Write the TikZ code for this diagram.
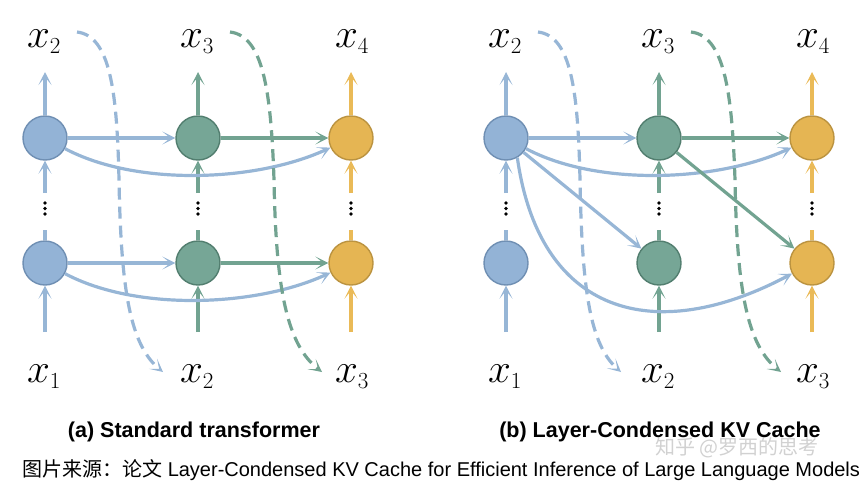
\RequirePackage{fix-cm}
\documentclass[tikz,border=0pt]{standalone}
\usepackage{fontspec}
\setmainfont{Liberation Sans}
\newfontfamily\cjkfont{Noto Sans CJK SC}
\usetikzlibrary{arrows.meta}
\definecolor{blueF}{HTML}{93B3D6}
\definecolor{blueD}{HTML}{6F8FB3}
\definecolor{blueA}{HTML}{97B6D6}
\definecolor{greenF}{HTML}{76A696}
\definecolor{greenD}{HTML}{527E6F}
\definecolor{greenA}{HTML}{72A391}
\definecolor{yellowF}{HTML}{E5B553}
\definecolor{yellowD}{HTML}{BB9340}
\definecolor{yellowA}{HTML}{EABA57}
\newcommand{\xsub}[1]{$x_{\mbox{\fontsize{23}{23}\selectfont$#1$}}$}
\begin{document}
\begin{tikzpicture}[x=1pt,y=1pt,
  nd/.style={circle, minimum size=44pt, inner sep=0pt, line width=1.4pt},
  bnode/.style={nd, fill=blueF, draw=blueD},
  gnode/.style={nd, fill=greenF, draw=greenD},
  ynode/.style={nd, fill=yellowF, draw=yellowD},
  ar/.style={line width=3.2pt, -{Stealth[length=13pt,width=13pt,inset=8pt]}},
  ln/.style={line width=3.2pt},
  dsh/.style={line width=3.2pt, dash pattern=on 12pt off 7pt, -{Stealth[length=13pt,width=13pt,inset=8pt]}},
  lab/.style={font=\fontsize{41}{44}\selectfont, inner sep=0pt},
  captxt/.style={font=\bfseries\fontsize{21.5}{24}\selectfont, inner sep=0pt},
  dotc/.style={black}]
\useasboundingbox (0,0) rectangle (862,-482);
% ---------------- left panel ----------------
\node[bnode] (a11) at (45,-138) {};
\node[gnode] (a12) at (198,-138) {};
\node[ynode] (a13) at (351,-138) {};
\node[bnode] (a21) at (45,-263) {};
\node[gnode] (a22) at (198,-263) {};
\node[ynode] (a23) at (351,-263) {};
\node[lab] (at1) at (44,-42) {\xsub{2}};
\node[lab] (at2) at (197,-42) {\xsub{3}};
\node[lab] (at3) at (352,-42) {\xsub{4}};
\node[lab] (ab1) at (44,-377) {\xsub{1}};
\node[lab] (ab2) at (197,-377) {\xsub{2}};
\node[lab] (ab3) at (352,-377) {\xsub{3}};
\foreach \c/\xx/\col in {1/45/blueA,2/198/greenA,3/351/yellowA}{
  \coordinate (ai\c) at (\xx,-332);
  \coordinate (am\c) at (\xx,-230);
  \coordinate (an\c) at (\xx,-193);
  \coordinate (ao\c) at (\xx,-72);
  \draw[ar,\col] (ai\c) -- (a2\c);
  \draw[ln,\col] (a2\c) -- (am\c);
  \draw[ar,\col] (an\c) -- (a1\c);
  \draw[ar,\col] (a1\c) -- (ao\c);
  \fill[dotc] (\xx,-203) circle (1.8pt) (\xx,-208.5) circle (1.8pt) (\xx,-214) circle (1.8pt);
}
\draw[ar,blueA] (a11) -- (a12);
\draw[ar,greenA] (a12) -- (a13);
\draw[ar,blueA] (a21) -- (a22);
\draw[ar,greenA] (a22) -- (a23);
\draw[ar,blueA] (a11) to[out=-28,in=-155,looseness=0.78] (a13);
\draw[ar,blueA] (a21) to[out=-28,in=-155,looseness=0.78] (a23);
\coordinate (ad1s) at (77,-32);
\coordinate (ad1e) at (163,-372);
\coordinate (ad2s) at (230,-32);
\coordinate (ad2e) at (322,-372);
\draw[dsh,blueA] (ad1s) .. controls (110,-36) and (117,-90) .. (119,-180)
  .. controls (121,-290) and (130,-345) .. (ad1e);
\draw[dsh,greenA] (ad2s) .. controls (263,-36) and (271,-90) .. (274,-180)
  .. controls (276,-290) and (287,-345) .. (ad2e);
% ---------------- right panel ----------------
\node[bnode] (b11) at (506,-138) {};
\node[gnode] (b12) at (659,-138) {};
\node[ynode] (b13) at (812,-138) {};
\node[bnode] (b21) at (506,-263) {};
\node[gnode] (b22) at (659,-263) {};
\node[ynode] (b23) at (812,-263) {};
\node[lab] (bt1) at (505,-42) {\xsub{2}};
\node[lab] (bt2) at (658,-42) {\xsub{3}};
\node[lab] (bt3) at (813,-42) {\xsub{4}};
\node[lab] (bb1) at (505,-377) {\xsub{1}};
\node[lab] (bb2) at (658,-377) {\xsub{2}};
\node[lab] (bb3) at (813,-377) {\xsub{3}};
\foreach \c/\xx/\col in {1/506/blueA,2/659/greenA,3/812/yellowA}{
  \coordinate (bi\c) at (\xx,-332);
  \coordinate (bm\c) at (\xx,-230);
  \coordinate (bn\c) at (\xx,-193);
  \coordinate (bo\c) at (\xx,-72);
  \draw[ar,\col] (bi\c) -- (b2\c);
  \draw[ln,\col] (b2\c) -- (bm\c);
  \draw[ar,\col] (bn\c) -- (b1\c);
  \draw[ar,\col] (b1\c) -- (bo\c);
  \fill[dotc] (\xx,-203) circle (1.8pt) (\xx,-208.5) circle (1.8pt) (\xx,-214) circle (1.8pt);
}
\draw[ar,blueA] (b11) -- (b12);
\draw[ar,greenA] (b12) -- (b13);
\draw[ar,blueA] (b11) to[out=-28,in=-155,looseness=0.78] (b13);
\draw[ar,blueA] (b11) -- (b22);
\draw[ar,greenA] (b12) -- (b23);
\draw[ar,blueA] (b11.-60) to[out=-82,in=-152,looseness=1.35] (b23.-152);
\coordinate (bd1s) at (538,-32);
\coordinate (bd1e) at (621,-372);
\coordinate (bd2s) at (691,-32);
\coordinate (bd2e) at (781,-372);
\draw[dsh,blueA] (bd1s) .. controls (571,-36) and (578,-90) .. (580,-180)
  .. controls (582,-290) and (590,-345) .. (bd1e);
\draw[dsh,greenA] (bd2s) .. controls (724,-36) and (732,-90) .. (735,-180)
  .. controls (737,-290) and (747,-345) .. (bd2e);
% ---------------- captions ----------------
\node[inner sep=0pt, text=black!18, font=\cjkfont\fontsize{20}{22}\selectfont] (wm) at (737,-448) {知乎 @罗西的思考};
\node[captxt] (capa) at (194,-432) {(a) Standard transformer};
\node[captxt] (capb) at (660,-432) {(b) Layer-Condensed KV Cache};
\node[inner sep=0pt, anchor=west, font=\fontsize{20}{22}\selectfont] (src) at (22,-470) {{\cjkfont 图片来源：论文} Layer-Condensed KV Cache for Efficient Inference of Large Language Models};
\end{tikzpicture}
\end{document}
